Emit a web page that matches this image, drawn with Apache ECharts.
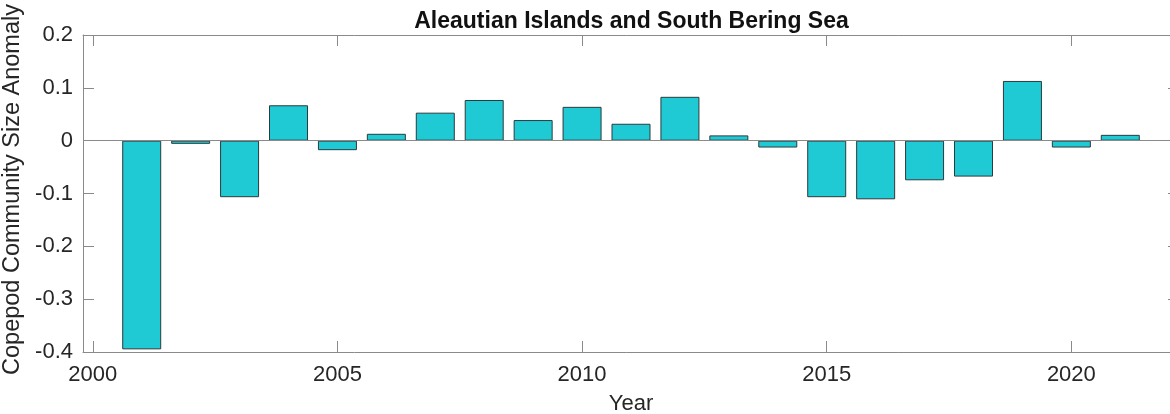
<!DOCTYPE html>
<html>
<head>
<meta charset="utf-8">
<script src="https://cdn.jsdelivr.net/npm/echarts@6/dist/echarts.min.js"></script>
<style>
html,body{margin:0;padding:0;background:#fff;}
#chart{width:1170px;height:414px;}
</style>
</head>
<body>
<div id="chart"></div>
<script>
const years = [2001,2002,2003,2004,2005,2006,2007,2008,2009,2010,2011,2012,2013,2014,2015,2016,2017,2018,2019,2020,2021];
const anomaly = [-0.395,-0.006,-0.107,0.067,-0.018,0.013,0.053,0.077,0.039,0.064,0.032,0.083,0.010,-0.013,-0.107,-0.111,-0.075,-0.068,0.113,-0.013,0.011];
const xTickValues = [2000,2005,2010,2015,2020];
const titleText = 'Aleautian Islands and South Bering Sea';
const xName = 'Year';
const yName = 'Copepod Community Size Anomaly';

const FONT = '"Liberation Sans", Arial, Helvetica, sans-serif';
const AXIS_COLOR = '#8a8a8a';
const TEXT_COLOR = '#262626';

const chart = echarts.init(document.getElementById('chart'), null, {renderer:'canvas'});
const xMin = 1999.8, xMax = 2022.2;
const option = {
  animation: false,
  backgroundColor: '#fff',
  textStyle: {fontFamily: FONT},
  title: {
    text: titleText,
    left: 626.5, top: 5, textAlign: 'center',
    textStyle: {fontFamily: FONT, fontSize: 23, fontWeight: 'bold', color: '#111'}
  },
  grid: {left: 83, top: 35, width: 1096, height: 317, containLabel: false, outerBoundsMode: 'none'},
  xAxis: [{
    type: 'value', min: xMin, max: xMax, position: 'bottom',
    name: xName, nameLocation: 'middle', nameGap: 41,
    nameTextStyle: {fontFamily: FONT, fontSize: 22, color: TEXT_COLOR},
    axisLine: {show: true, onZero: false, lineStyle: {color: AXIS_COLOR, width: 1}},
    axisTick: {show: true, inside: true, length: 11, customValues: xTickValues, lineStyle: {color: AXIS_COLOR}},
    axisLabel: {show: true, customValues: xTickValues, margin: 12, fontFamily: FONT, fontSize: 22, color: TEXT_COLOR, formatter: v => String(Math.round(v))},
    splitLine: {show: false}
  },{
    type: 'value', min: xMin, max: xMax, position: 'top',
    axisLine: {show: true, onZero: false, lineStyle: {color: AXIS_COLOR, width: 1}},
    axisTick: {show: true, inside: true, length: 11, customValues: xTickValues, lineStyle: {color: AXIS_COLOR}},
    axisLabel: {show: false},
    splitLine: {show: false}
  }],
  yAxis: [{
    type: 'value', min: -0.4, max: 0.2, interval: 0.1, position: 'left',
    name: yName, nameLocation: 'middle', nameGap: 49, nameRotate: 90,
    nameTextStyle: {fontFamily: FONT, fontSize: 23.5, color: TEXT_COLOR, padding: [0, 0, 0, 8]},
    axisLine: {show: true, onZero: false, lineStyle: {color: AXIS_COLOR, width: 1}},
    axisTick: {show: true, inside: true, length: 11, lineStyle: {color: AXIS_COLOR}},
    axisLabel: {show: true, margin: 10, fontFamily: FONT, fontSize: 22, color: TEXT_COLOR,
      showMinLabel: true, showMaxLabel: true,
      formatter: v => { const r = Number(v.toFixed(1)); return r === 0 ? '0' : String(r); }},
    splitLine: {show: false}
  },{
    type: 'value', min: -0.4, max: 0.2, interval: 0.1, position: 'right',
    axisLine: {show: true, onZero: false, lineStyle: {color: AXIS_COLOR, width: 1}},
    axisTick: {show: true, inside: true, length: 11, lineStyle: {color: AXIS_COLOR}},
    axisLabel: {show: false},
    splitLine: {show: false}
  }],
  series: [{
    type: 'bar',
    xAxisIndex: 0, yAxisIndex: 0,
    data: years.map((y, i) => [y, anomaly[i]]),
    barWidth: 39,
    itemStyle: {color: '#1fcad4', borderColor: '#2c3b3d', borderWidth: 1},
    markLine: {
      silent: true, symbol: ['none','none'], animation: false,
      label: {show: false},
      lineStyle: {color: AXIS_COLOR, width: 1, type: 'solid'},
      data: [{yAxis: 0}]
    }
  }]
};
chart.setOption(option);
</script>
</body>
</html>
